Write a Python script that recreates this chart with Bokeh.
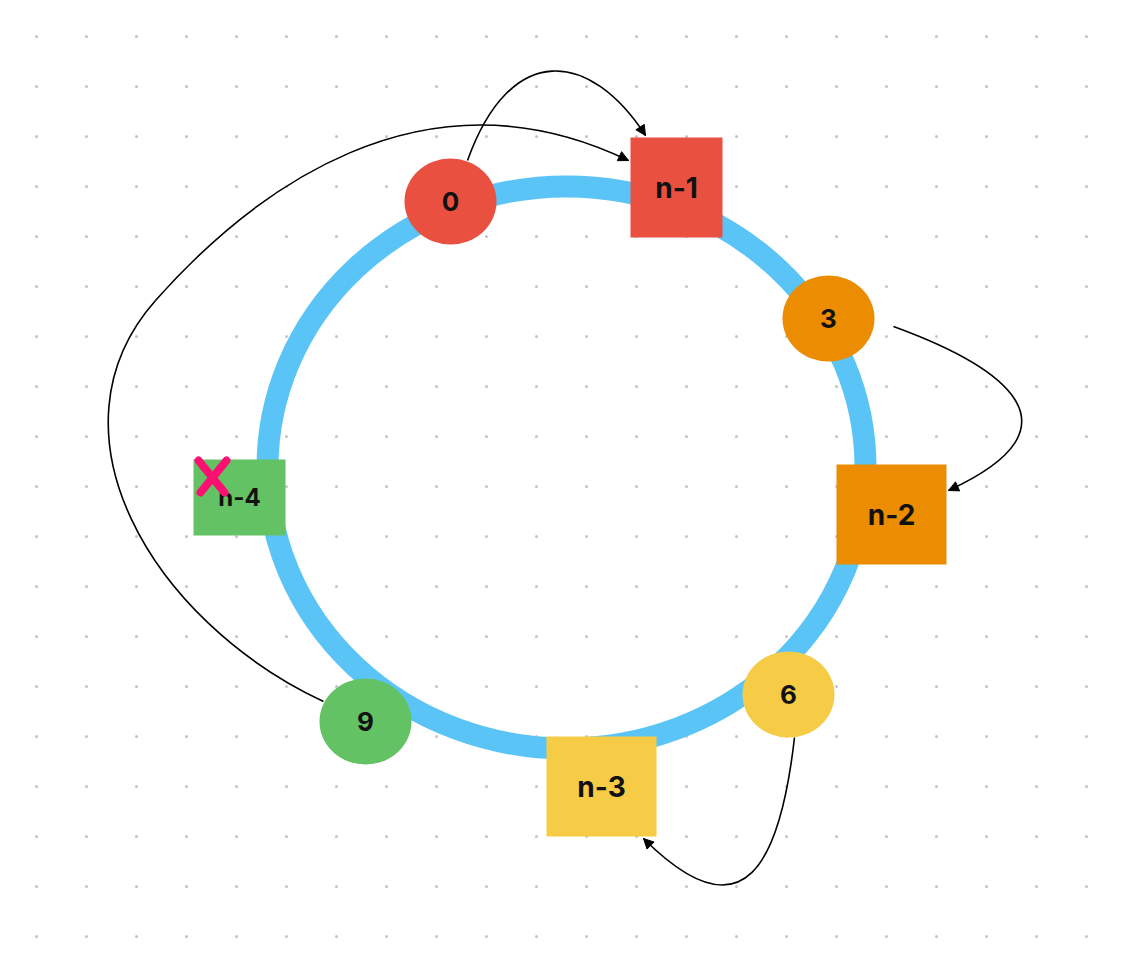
from bokeh.plotting import figure
from bokeh.models import Range1d, Arrow, NormalHead
from bokeh.core.properties import value
from bokeh.embed import file_html
from bokeh.resources import INLINE

# ring
ring_x, ring_y, ring_w, ring_h = 566, 467, 598, 562

# round nodes
circ_labels = ["0", "3", "6", "9"]
circ_x = [450, 828, 788, 365]
circ_y = [201, 318, 694, 721]
circ_colors = ["#E9503F", "#EC8C00", "#F6CB45", "#62C264"]

# square nodes
sq_labels = ["n-1", "n-2", "n-3", "n-4"]
sq_x = [676, 891, 601, 239]
sq_y = [187, 514, 786, 497]
sq_w = [92, 110, 110, 92]
sq_h = [100, 100, 100, 76]
sq_colors = ["#E9503F", "#EC8C00", "#F6CB45", "#62C264"]

# curved links (cubic beziers); last of each chain gets an arrow head
curve_x0 = [467, 323, 155, 893, 794]
curve_y0 = [160, 701, 300, 326, 737]
curve_cx0 = [510, 150, 250, 1000, 780]
curve_cy0 = [40, 620, 193, 365, 860]
curve_cx1 = [590, 40, 420, 1090, 745]
curve_cy1 = [50, 430, 60, 425, 940]
curve_x1 = [645, 155, 628, 948, 643]
curve_y1 = [135, 300, 160, 490, 838]
arrow_idx = [0, 2, 3, 4]

grid_x = [36 + 50 * i for i in range(23)]
grid_y = [36 + 50 * j for j in range(19)]

p = figure(width=1124, height=948, x_range=Range1d(0, 1124), y_range=Range1d(948, 0),
           output_backend="svg", toolbar_location=None, min_border=0)
p.axis.visible = False
p.grid.visible = False
p.outline_line_color = None

gx = [x for x in grid_x for _ in grid_y]
gy = [y for _ in grid_x for y in grid_y]
p.scatter(gx, gy, size=3, color="#C4C4C4", line_color=None)

p.ellipse(ring_x, ring_y, width=ring_w, height=ring_h, fill_color=None,
          line_color="#5AC4F7", line_width=22)

p.bezier(curve_x0, curve_y0, curve_x1, curve_y1, curve_cx0, curve_cy0, curve_cx1, curve_cy1,
         line_color="black", line_width=1.6)
for i in arrow_idx:
    dx = curve_x1[i] - curve_cx1[i]
    dy = curve_y1[i] - curve_cy1[i]
    n = (dx * dx + dy * dy) ** 0.5
    p.add_layout(Arrow(end=NormalHead(size=10, fill_color="black", line_color="black"),
                       x_start=curve_x1[i] - dx / n * 5, y_start=curve_y1[i] - dy / n * 5,
                       x_end=curve_x1[i], y_end=curve_y1[i], line_alpha=0))

p.rect(sq_x, sq_y, width=sq_w, height=sq_h, fill_color=sq_colors, line_color=None)
p.ellipse(circ_x, circ_y, width=92, height=86, fill_color=circ_colors, line_color=None)

font = value("Inter")
p.text(circ_x, circ_y, text=circ_labels, text_font=font, text_font_style="bold",
       text_font_size="26px", text_align="center", text_baseline="middle", color="#111111")
p.text(sq_x, sq_y, text=sq_labels, text_font=font, text_font_style="bold",
       text_font_size=["28px", "28px", "28px", "24px"], text_align="center",
       text_baseline="middle", color="#111111")

# cross-out mark on n-4
p.segment([198, 226], [460, 460], [224, 200], [492, 492], line_color="#FF0F72", line_width=8,
          line_cap="round")

open("out.html", "w").write(file_html(p, INLINE))
